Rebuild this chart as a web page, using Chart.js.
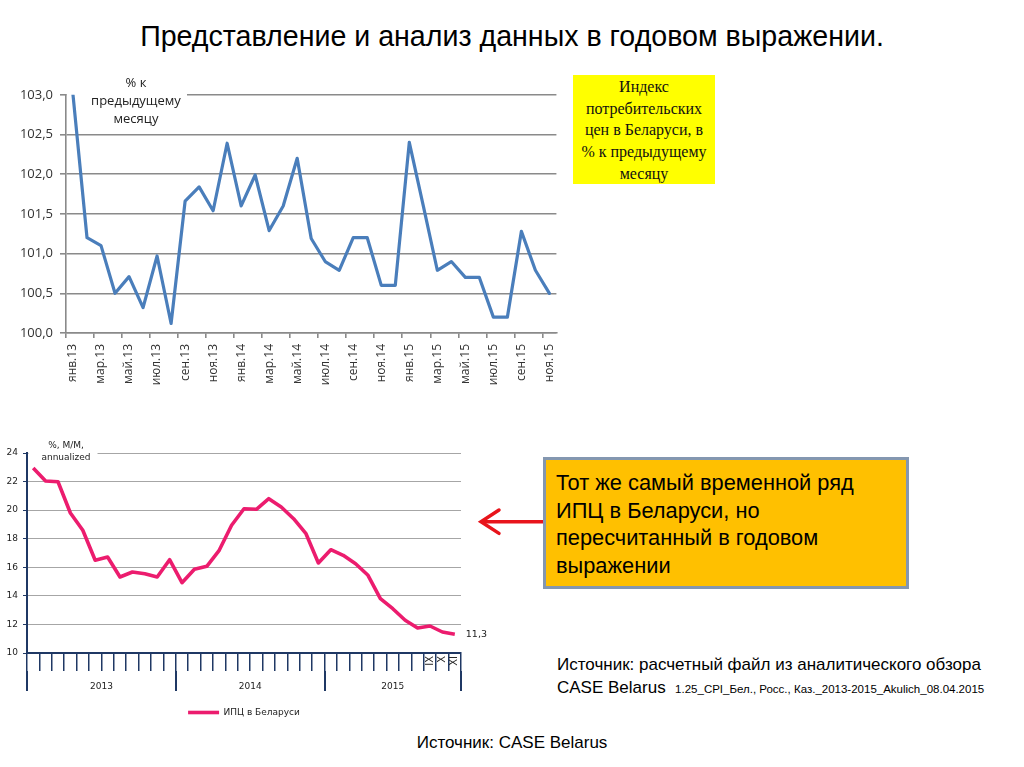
<!DOCTYPE html>
<html><head><meta charset="utf-8">
<script src="https://cdn.jsdelivr.net/npm/chart.js@4.4.1/dist/chart.umd.min.js"></script>
<style>
html,body{margin:0;padding:0;background:#fff;}
body{width:1024px;height:767px;position:relative;overflow:hidden;font-family:"Liberation Sans",Arial,sans-serif;color:#000;}
.abs{position:absolute;}
#title{left:0;width:1024px;top:17px;text-align:center;font-size:28.6px;line-height:38px;white-space:nowrap;}
#c1{left:0;top:80px;}
#c2{left:0;top:440px;}
#lbl1{left:80px;top:73px;width:112px;text-align:center;font-family:"Open Sans",sans-serif;font-size:13px;line-height:18px;color:#222;}
#lbl2{left:28px;top:439px;width:76px;text-align:center;font-family:"DejaVu Sans",sans-serif;font-size:9px;line-height:12px;color:#222;}
#ybox{left:573px;top:75px;width:142px;height:109px;box-sizing:border-box;padding-top:1px;background:#ffff00;text-align:center;font-family:"Liberation Serif","Times New Roman",serif;font-size:16px;line-height:21.7px;color:#111;}
#obox{left:543px;top:457px;width:366px;height:132px;box-sizing:border-box;border:3px solid #8497b0;background:#ffc000;padding:9px 0 0 10px;font-size:21.8px;line-height:27.5px;}
#src1{left:557px;top:653px;font-size:17px;line-height:23px;white-space:nowrap;}
#src1 small{font-size:11.5px;}
#src2{left:0;width:1024px;top:732px;text-align:center;font-size:17px;line-height:22px;}
</style></head>
<body>
<div id="title" class="abs">Представление и анализ данных в годовом выражении.</div>
<canvas id="c1" class="abs" width="570" height="313"></canvas>
<div id="lbl1" class="abs">% к<br>предыдущему<br>месяцу</div>
<div id="ybox" class="abs">Индекс<br>потребительских<br>цен в Беларуси, в<br>% к предыдущему<br>месяцу</div>
<canvas id="c2" class="abs" width="500" height="290"></canvas>
<div id="lbl2" class="abs">%, M/M,<br>annualized</div>
<svg class="abs" style="left:470px;top:500px" width="80" height="45">
  <line x1="74" y1="21.7" x2="12" y2="21.7" stroke="#e8141b" stroke-width="3.5"/>
  <polyline points="29,10 11,21.7 29,33.4" fill="none" stroke="#e8141b" stroke-width="3.5" stroke-linecap="round"/>
</svg>
<div id="obox" class="abs">Тот же самый временной ряд<br>ИПЦ в Беларуси, но<br>пересчитанный в годовом<br>выражении</div>
<div id="src1" class="abs">Источник: расчетный файл из аналитического обзора<br>CASE Belarus &nbsp;<small>1.25_CPI_Бел., Росс., Каз._2013-2015_Akulich_08.04.2015</small></div>
<div id="src2" class="abs">Источник: CASE Belarus</div>
<script>
// ---------- data ----------
const months = ['янв.13','фев.13','мар.13','апр.13','май.13','июн.13','июл.13','авг.13','сен.13','окт.13','ноя.13','дек.13',
                'янв.14','фев.14','мар.14','апр.14','май.14','июн.14','июл.14','авг.14','сен.14','окт.14','ноя.14','дек.14',
                'янв.15','фев.15','мар.15','апр.15','май.15','июн.15','июл.15','авг.15','сен.15','окт.15','ноя.15'];
const cpiMoM = [103.0,101.2,101.1,100.5,100.71,100.32,100.97,100.12,101.66,101.84,101.54,102.39,
                101.6,101.99,101.29,101.6,102.2,101.19,100.9,100.79,101.2,101.2,100.6,100.6,
                102.4,101.6,100.79,100.9,100.7,100.7,100.2,100.2,101.28,100.79,100.5];
const cpiAnnualized = [22.95,22.04,21.99,19.8,18.59,16.49,16.72,15.32,15.67,15.55,15.32,16.53,
                       14.92,15.86,16.07,17.19,18.94,20.1,20.06,20.8,20.22,19.4,18.35,16.3,
                       17.23,16.84,16.25,15.44,13.8,13.1,12.29,11.75,11.89,11.47,11.31];
const monthTicks2 = ['','','','','','','','','','','','',
                     '','','','','','','','','','','','',
                     '','','','','','','','','IX','X','XI'];
const yearLabels = ['2013','2014','2015'];
const seriesName2 = 'ИПЦ в Беларуси';

// ---------- helpers ----------
const comma = (v, d) => Number(v).toFixed(d).replace('.', ',');
const yearStarts = months.map((m, i) => m.startsWith('янв') ? i : -1).filter(i => i >= 0);
const yearBounds = yearStarts.concat([months.length]);
const yearCenters = yearStarts.map((s, k) => (s + yearBounds[k + 1]) / 2);

const whiteBox = {
  id: 'whiteBox',
  beforeDatasetsDraw(chart, args, o) {
    if (!o || !o.w) return;
    const {ctx, chartArea} = chart;
    ctx.save();
    ctx.fillStyle = '#ffffff';
    ctx.fillRect(chartArea.left + o.dx, chartArea.top + o.dy, o.w, o.h);
    ctx.restore();
  }
};
const lastLabel = {
  id: 'lastLabel',
  afterDatasetsDraw(chart, args, o) {
    if (!o || !o.show) return;
    const meta = chart.getDatasetMeta(0);
    const pt = meta.data[meta.data.length - 1];
    const data = chart.data.datasets[0].data;
    const ctx = chart.ctx;
    ctx.save();
    ctx.font = o.font;
    ctx.fillStyle = o.color;
    ctx.textBaseline = 'middle';
    ctx.textAlign = 'left';
    ctx.fillText(comma(data[data.length - 1], 1), pt.x + o.dx, pt.y);
    ctx.restore();
  }
};

Chart.defaults.animation = false;
Chart.defaults.devicePixelRatio = 1;

// ---------- chart 1 ----------
const grey1 = '#8a8a8a';
new Chart(document.getElementById('c1'), {
  type: 'line',
  data: { labels: months, datasets: [{ data: cpiMoM, borderColor: '#4a7ebb', borderWidth: 3.2,
          pointRadius: 0, tension: 0, borderJoinStyle: 'round', borderCapStyle: 'round' }] },
  plugins: [whiteBox],
  options: {
    responsive: false,
    layout: { padding: { top: 10, right: 13, left: 0, bottom: 0 } },
    plugins: { legend: { display: false }, tooltip: { enabled: false },
               whiteBox: { dx: 1, dy: -12, w: 120, h: 38 } },
    scales: {
      y: { min: 100, max: 103,
           ticks: { stepSize: 0.5, padding: 7, color: '#333', font: { family: 'Open Sans', size: 13 },
                    callback: v => comma(v, 1) },
           grid: { color: grey1, lineWidth: 1.6, tickLength: 6 },
           border: { color: grey1, width: 1.6 },
           afterFit: s => { s.width = 66; } },
      x: { type: 'category', offset: true,
           ticks: { autoSkip: false, minRotation: 90, maxRotation: 90, padding: 6, color: '#333',
                    font: { family: 'Open Sans', size: 12 },
                    callback: (v, i) => i % 2 === 0 ? months[i] : '' },
           grid: { offset: true, drawOnChartArea: false, tickLength: 5, lineWidth: 1.6,
                   tickColor: c => (c.index % 2 === 0) ? grey1 : 'rgba(0,0,0,0)' },
           border: { color: grey1, width: 1.6 },
           afterFit: s => { s.height = 60; } }
    }
  }
});

// ---------- chart 2 ----------
const navy = '#1f3864';
const grey2 = '#a6a6a6';
const pink = '#ec1c6e';
const f2 = { family: 'DejaVu Sans', size: 9 };
new Chart(document.getElementById('c2'), {
  type: 'line',
  data: { labels: months, datasets: [{ label: seriesName2, data: cpiAnnualized, borderColor: pink, backgroundColor: pink,
          borderWidth: 3.6, pointRadius: 0, tension: 0, borderJoinStyle: 'round', borderCapStyle: 'butt' }] },
  plugins: [whiteBox, lastLabel],
  options: {
    responsive: false,
    layout: { padding: { top: 13, right: 39, left: 0, bottom: 3 } },
    plugins: {
      tooltip: { enabled: false },
      legend: { position: 'bottom', fullSize: false,
                labels: { usePointStyle: true, pointStyle: 'line', pointStyleWidth: 31, color: '#222', font: f2 } },
      whiteBox: { dx: 1.5, dy: -12, w: 69, h: 24 },
      lastLabel: { show: true, dx: 11, font: '9.5px "DejaVu Sans"', color: '#222' }
    },
    scales: {
      y: { min: 10, max: 24,
           ticks: { stepSize: 2, padding: 5, color: '#222', font: f2 },
           grid: { color: grey2, lineWidth: 1, tickLength: 4, tickColor: navy },
           border: { color: navy, width: 2 },
           afterFit: s => { s.width = 27; } },
      x: { type: 'category', offset: true, weight: 0,
           ticks: { autoSkip: false, minRotation: 90, maxRotation: 90, padding: -15, color: '#222',
                    font: { family: 'DejaVu Sans', size: 10 },
                    callback: (v, i) => monthTicks2[i] },
           grid: { offset: true, drawOnChartArea: false, tickLength: 18, lineWidth: 1.5, color: navy },
           border: { color: navy, width: 2 },
           afterFit: s => { s.height = 18; } },
      x2: { type: 'linear', position: 'bottom', weight: 1, min: 0, max: months.length, offset: false,
            afterBuildTicks: s => { s.ticks = yearBounds.concat(yearCenters).sort((a, b) => a - b).map(v => ({ value: v })); },
            ticks: { autoSkip: false, maxRotation: 0, padding: -10, color: '#222', font: f2,
                     callback: v => { const k = yearCenters.indexOf(v); return k >= 0 ? yearLabels[k] : ''; } },
            grid: { drawOnChartArea: false, tickLength: 20, lineWidth: 2,
                    tickColor: c => (c.tick && yearBounds.includes(c.tick.value)) ? navy : 'rgba(0,0,0,0)' },
            border: { display: false },
            afterFit: s => { s.height = 27; } }
    }
  }
});
</script>
</body></html>
